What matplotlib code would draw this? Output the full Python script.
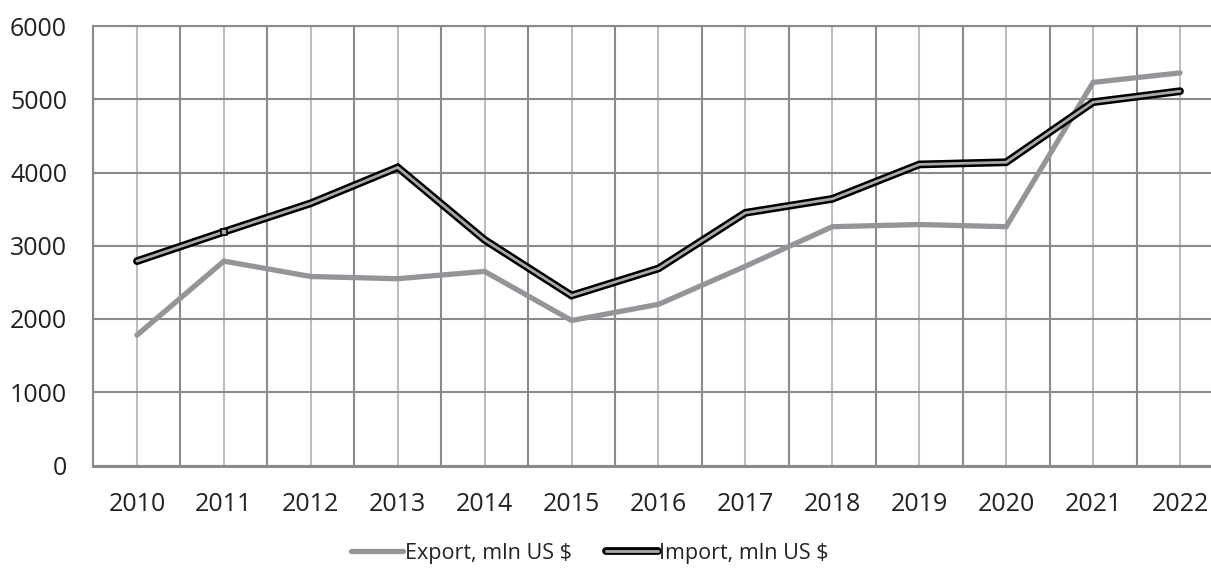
import matplotlib
matplotlib.use("Agg")
import matplotlib.pyplot as plt
import matplotlib.patheffects as pe
import numpy as np

years = ["2010", "2011", "2012", "2013", "2014", "2015", "2016",
         "2017", "2018", "2019", "2020", "2021", "2022"]
export_vals = [1780, 2790, 2580, 2550, 2650, 1980, 2200,
               2720, 3260, 3290, 3260, 5230, 5360]
import_vals = [2790, 3190, 3580, 4070, 3080, 2320, 2690,
               3450, 3640, 4110, 4140, 4960, 5110]
y_ticks = [0, 1000, 2000, 3000, 4000, 5000, 6000]

plt.rcParams['font.family'] = ['Open Sans', 'DejaVu Sans']

W, H = 1211, 572
fig = plt.figure(figsize=(W / 100, H / 100), dpi=100)
left = 93.5 / W
bottom = (H - 465.5) / H
top = (H - 26) / H
ax = fig.add_axes([left, bottom, 1.0 - left, top - bottom])

dark = '#8a8a8c'
light = '#bdbdbf'
x = np.arange(len(years))

ax.set_xticks(x)
ax.set_xticklabels(years)
ax.set_xticks(np.arange(len(years) + 1) - 0.5, minor=True)
ax.set_yticks(y_ticks)
ax.set_yticklabels([str(v) for v in y_ticks])
ax.set_xlim(-0.5, -0.5 + (W - 93.5) / 86.92)
ax.set_ylim(0, 6000)

ax.grid(True, which='major', axis='x', color=light, lw=1.5)
ax.grid(True, which='minor', axis='x', color=dark, lw=1.5)
ax.grid(True, which='major', axis='y', color=dark, lw=1.5)
ax.set_axisbelow(True)

ax.spines['right'].set_visible(False)
for s in ['left', 'bottom', 'top']:
    ax.spines[s].set_color(dark)
    ax.spines[s].set_linewidth(1.5)
ax.spines['bottom'].set_linewidth(2.2)

ax.tick_params(axis='both', which='both', length=0, labelsize=18, colors='#222222')
ax.tick_params(axis='y', pad=19)
ax.tick_params(axis='x', pad=19)

ax.plot(x, export_vals, color='#939598', lw=3.8, solid_capstyle='round',
        solid_joinstyle='miter', label='Export, mln US $', zorder=3)
ax.plot(x, import_vals, color='#a7a9ac', lw=2.0, solid_capstyle='round',
        solid_joinstyle='miter', label='Import, mln US $', zorder=4,
        path_effects=[pe.Stroke(linewidth=5.6, foreground='black'), pe.Normal()])
ax.plot(x[1:2], import_vals[1:2], linestyle='none', marker='s', markersize=4,
        markerfacecolor='#a7a9ac', markeredgecolor='black', markeredgewidth=1.2,
        zorder=5)

fig.legend(loc='center', bbox_to_anchor=(590 / W, 1 - 553 / H), ncol=2,
           frameon=False, fontsize=15.5, handlelength=2.4, handletextpad=0.08,
           columnspacing=1.6, labelcolor='#222222')

fig.savefig('out.png', dpi=100)
